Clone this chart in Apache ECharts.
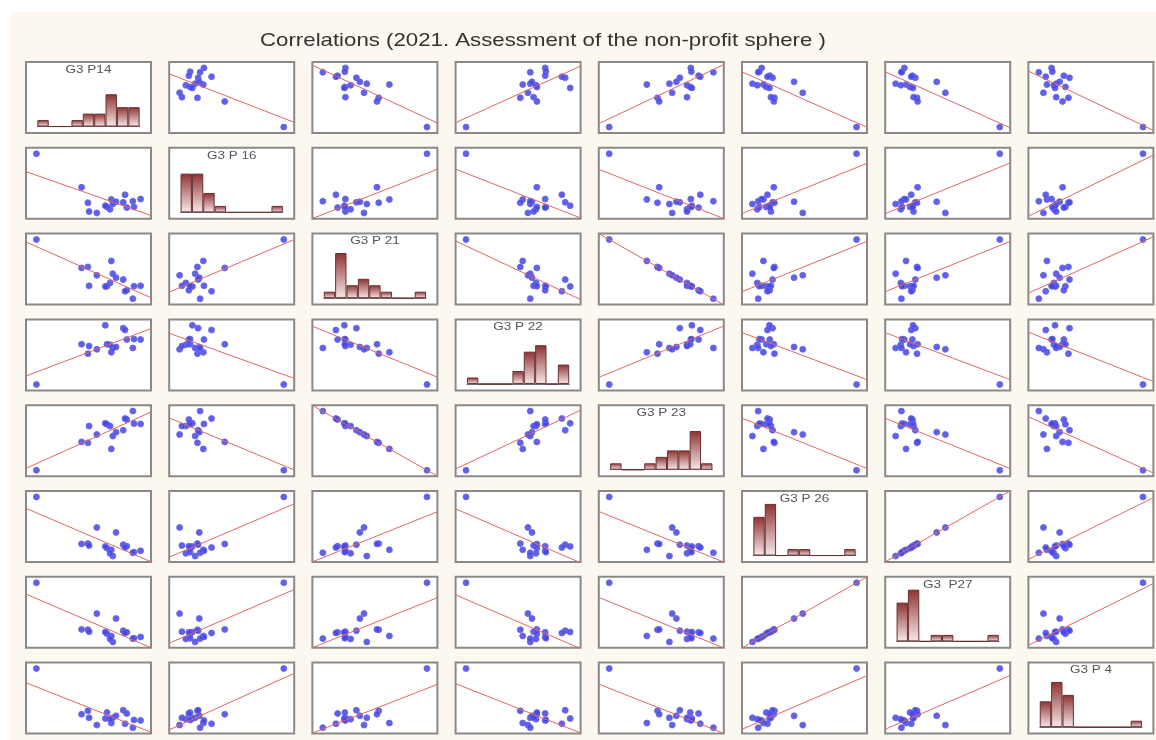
<!DOCTYPE html>
<html>
<head>
<meta charset="utf-8">
<title>Correlations</title>
<script src="https://cdn.jsdelivr.net/npm/echarts@6/dist/echarts.min.js"></script>
<style>
    body { margin: 0; background: #fff; }
    .panel { position: absolute; left: 10px; top: 12px; right: 0; bottom: 0; background: #fdf8ef; }
    #main { position: absolute; left: 0; top: 0; width: 1156px; height: 740px; }
</style>
</head>
<body>
<div class="panel"></div>
<div id="main"></div>
<script>
    // variable names, as printed on the diagonal
    const names = ['G3 P14', 'G3 P 16', 'G3 P 21', 'G3 P 22', 'G3 P 23', 'G3 P 26', 'G3  P27', 'G3 P 4'];

    const p14 = [0, 6.47, 4.45, 3.9, 6.6, 5.22, 7.5, 6.88, 6.36, 4.55, 6.1, 5.95, 9, 8.43, 7.81, 7.66, 8.33];
    const p16 = [9, 2.05, 1.54, 3.9, 1.34, 0, 1.6, 1.7, 0.54, 0.2, 0.91, 1.1, 2.1, 0.91, 0.8, 2.76, 1.77];
    const p21 = [9, 5.75, 4.83, 4.68, 3.8, 3.56, 2.9, 3.2, 2.4, 1.95, 1.9, 1.86, 1.95, 1.9, 1.28, 1.13, 0];
    const p22 = [0, 4.9, 4.69, 6.12, 5.55, 5.35, 8.57, 5.7, 6.05, 5.84, 6.12, 9, 6.84, 6.9, 6.84, 8.28, 5.55];
    const p23 = [0, 3.25, 4.17, 4.32, 5.2, 5.44, 6.1, 5.8, 6.72, 6.72, 7.0, 7.14, 7.05, 7.1, 7.72, 7.87, 9];
    const p26 = [9, 0.95, 1.9, 1.85, 0, 4.35, 1.74, 3.6, 0.42, 1.6, 1.2, 1.47, 0.8, 0.6, 1.5, 1.3, 0.5];
    const p27 = [9, 0.9, 1.85, 1.9, 0, 4.3, 1.7, 3.55, 0.45, 1.55, 1.25, 1.5, 0.75, 0.55, 1.45, 1.35, 0.5];
    const p4 = [9, 0.7, 2.56, 2.05, 1.5, 0.4, 2.65, 1.8, 1.3, 1.5, 2.3, 1.4, 1.1, 1.17, 2.16, 0.6, 0];

    const columns = [p14, p16, p21, p22, p23, p26, p27, p4];
    const binCount = 9;

    // layout of the 8x8 matrix
    const cellLeft = 26, cellTop = 62, cellW = 125, cellH = 71, stepX = 143.2, stepY = 85.8;
    const pad = 1 / 11;
    const font = 'Liberation Sans, Arial, sans-serif';

    function extent(arr){
        let lo = Math.min(...arr), hi = Math.max(...arr);
        let r = hi - lo;
        return [lo - r * 0.1, hi + r * 0.1, lo, hi];
    }

    function histogram(arr){
        let e = extent(arr);
        let w = (e[3] - e[2]) / binCount;
        let counts = new Array(binCount).fill(0);
        for (let v of arr){
            let k = Math.min(Math.floor((v - e[2]) / w + 1e-9), binCount - 1);
            counts[k]++;
        }
        return counts;
    }

    function fit(xs, ys){
        let n = xs.length, mx = 0, my = 0;
        for (let i = 0; i < n; i++){ mx += xs[i]; my += ys[i]; }
        mx /= n; my /= n;
        let sxy = 0, sxx = 0;
        for (let i = 0; i < n; i++){
            sxy += (xs[i] - mx) * (ys[i] - my);
            sxx += (xs[i] - mx) * (xs[i] - mx);
        }
        let b = sxy / sxx;
        return [my - b * mx, b];
    }

    let grid = [], xAxis = [], yAxis = [], series = [];
    // the texts of the picture are drawn a bit wide, so they get a horizontal stretch
    let texts = [{
        type: 'text', x: 543, y: 31, scaleX: 1.17, z: 10,
        style: {
            text: 'Correlations (2021. Assessment of the non-profit sphere )',
            font: '19px ' + font, fill: '#333', textAlign: 'center', textVerticalAlign: 'top'
        }
    }];

    for (let i = 0; i < 8; i++){
        for (let j = 0; j < 8; j++){
            let x = cellLeft + j * stepX;
            let y = cellTop + i * stepY;
            let g = grid.length;
            grid.push({
                left: x, top: y, width: cellW, height: cellH,
                show: true, backgroundColor: '#fff',
                borderColor: '#898989', borderWidth: 2
            });
            if (i == j){
                // box only, the histogram sits in an inner grid
                xAxis.push({ gridIndex: g, type: 'value', show: false });
                yAxis.push({ gridIndex: g, type: 'value', show: false });
                let h = grid.length;
                grid.push({
                    left: x + cellW * pad, top: y,
                    width: cellW * (1 - 2 * pad), height: cellH * (1 - pad)
                });
                xAxis.push({
                    gridIndex: h, type: 'category',
                    data: Array.from({length: binCount}, (_, k) => 'b' + k),
                    axisLine: { show: true, lineStyle: { color: '#6d6d6d', width: 1 } },
                    axisTick: { show: false }, axisLabel: { show: false }
                });
                yAxis.push({ gridIndex: h, type: 'value', min: 0, max: 10, show: false });
                series.push({
                    type: 'bar', xAxisIndex: h, yAxisIndex: h,
                    barCategoryGap: 0, silent: true,
                    data: histogram(columns[i]),
                    itemStyle: {
                        color: {
                            type: 'linear', x: 0, y: 0, x2: 0, y2: 1,
                            colorStops: [{ offset: 0, color: '#8e3232' }, { offset: 1, color: '#f7e9e9' }]
                        },
                        borderColor: '#6a3030', borderWidth: 1
                    }
                });
                texts.push({
                    type: 'text', x: x + cellW / 2, y: y + 3, scaleX: 1.35, z: 10,
                    style: { text: names[i], font: '10px ' + font, fill: '#555', textAlign: 'center', textVerticalAlign: 'top' }
                });
                continue;
            }
            let xs = columns[j], ys = columns[i];
            let ex = extent(xs), ey = extent(ys);
            xAxis.push({ gridIndex: g, type: 'value', min: ex[0], max: ex[1], show: false });
            yAxis.push({ gridIndex: g, type: 'value', min: ey[0], max: ey[1], show: false });
            let ab = fit(xs, ys);
            series.push({
                type: 'line', xAxisIndex: g, yAxisIndex: g,
                symbol: 'none', silent: true, clip: true,
                lineStyle: { color: '#e36565', width: 1 },
                data: [[ex[0], ab[0] + ab[1] * ex[0]], [ex[1], ab[0] + ab[1] * ex[1]]]
            });
            series.push({
                type: 'scatter', xAxisIndex: g, yAxisIndex: g,
                symbolSize: 6, silent: true,
                itemStyle: { color: '#4343f2', borderColor: '#6a6ad0', borderWidth: 1, opacity: 0.85 },
                data: xs.map((v, k) => [v, ys[k]])
            });
        }
    }

    let chart = echarts.init(document.getElementById('main'));
    chart.setOption({
        animation: false,
        backgroundColor: 'transparent',
        graphic: texts,
        grid: grid,
        xAxis: xAxis,
        yAxis: yAxis,
        series: series
    });
</script>
</body>
</html>
